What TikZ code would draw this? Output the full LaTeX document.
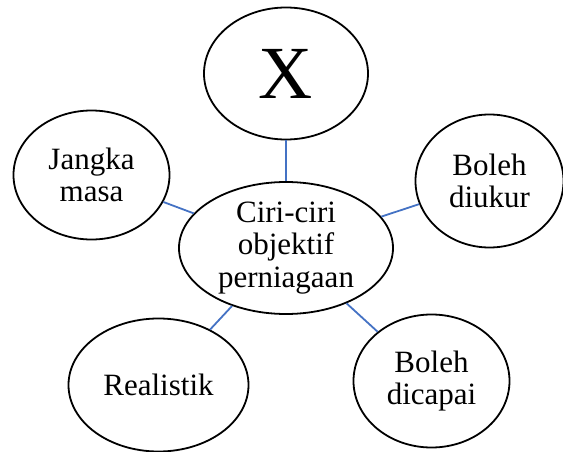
\documentclass[tikz,border=0pt]{standalone}
\usepackage{fontspec}
\setmainfont{Liberation Serif}
\usetikzlibrary{shapes.geometric}
\definecolor{linkblue}{RGB}{68,114,196}
\begin{document}
\begin{tikzpicture}[x=1pt,y=-1pt,
  bubble/.style={draw=black,line width=1.8pt,ellipse,inner sep=0pt,align=center,
    font=\fontsize{31}{32.5}\selectfont},
  link/.style={draw=linkblue,line width=1.8pt}]
\useasboundingbox (0,0) rectangle (563,452);
\node[bubble,minimum width=214pt,minimum height=132pt] (c) at (286,248) {Ciri-ciri\\objektif\\perniagaan};
\node[bubble,minimum width=164pt,minimum height=132pt,font=\fontsize{75}{80}\selectfont] (x) at (286,73.5) {X};
\node[bubble,minimum width=156pt,minimum height=129pt] (j) at (91.5,175) {Jangka\\masa};
\node[bubble,minimum width=148pt,minimum height=133pt] (d) at (489.5,181) {Boleh\\diukur};
\node[bubble,minimum width=180pt,minimum height=133pt] (r) at (158.5,385) {Realistik};
\node[bubble,minimum width=156pt,minimum height=133pt] (p) at (431.5,381) {Boleh\\dicapai};
\draw[link] (c) -- (x);
\draw[link] (c) -- (j);
\draw[link] (c) -- (d);
\draw[link] (c) -- (r);
\draw[link] (c) -- (p);
\end{tikzpicture}
\end{document}
